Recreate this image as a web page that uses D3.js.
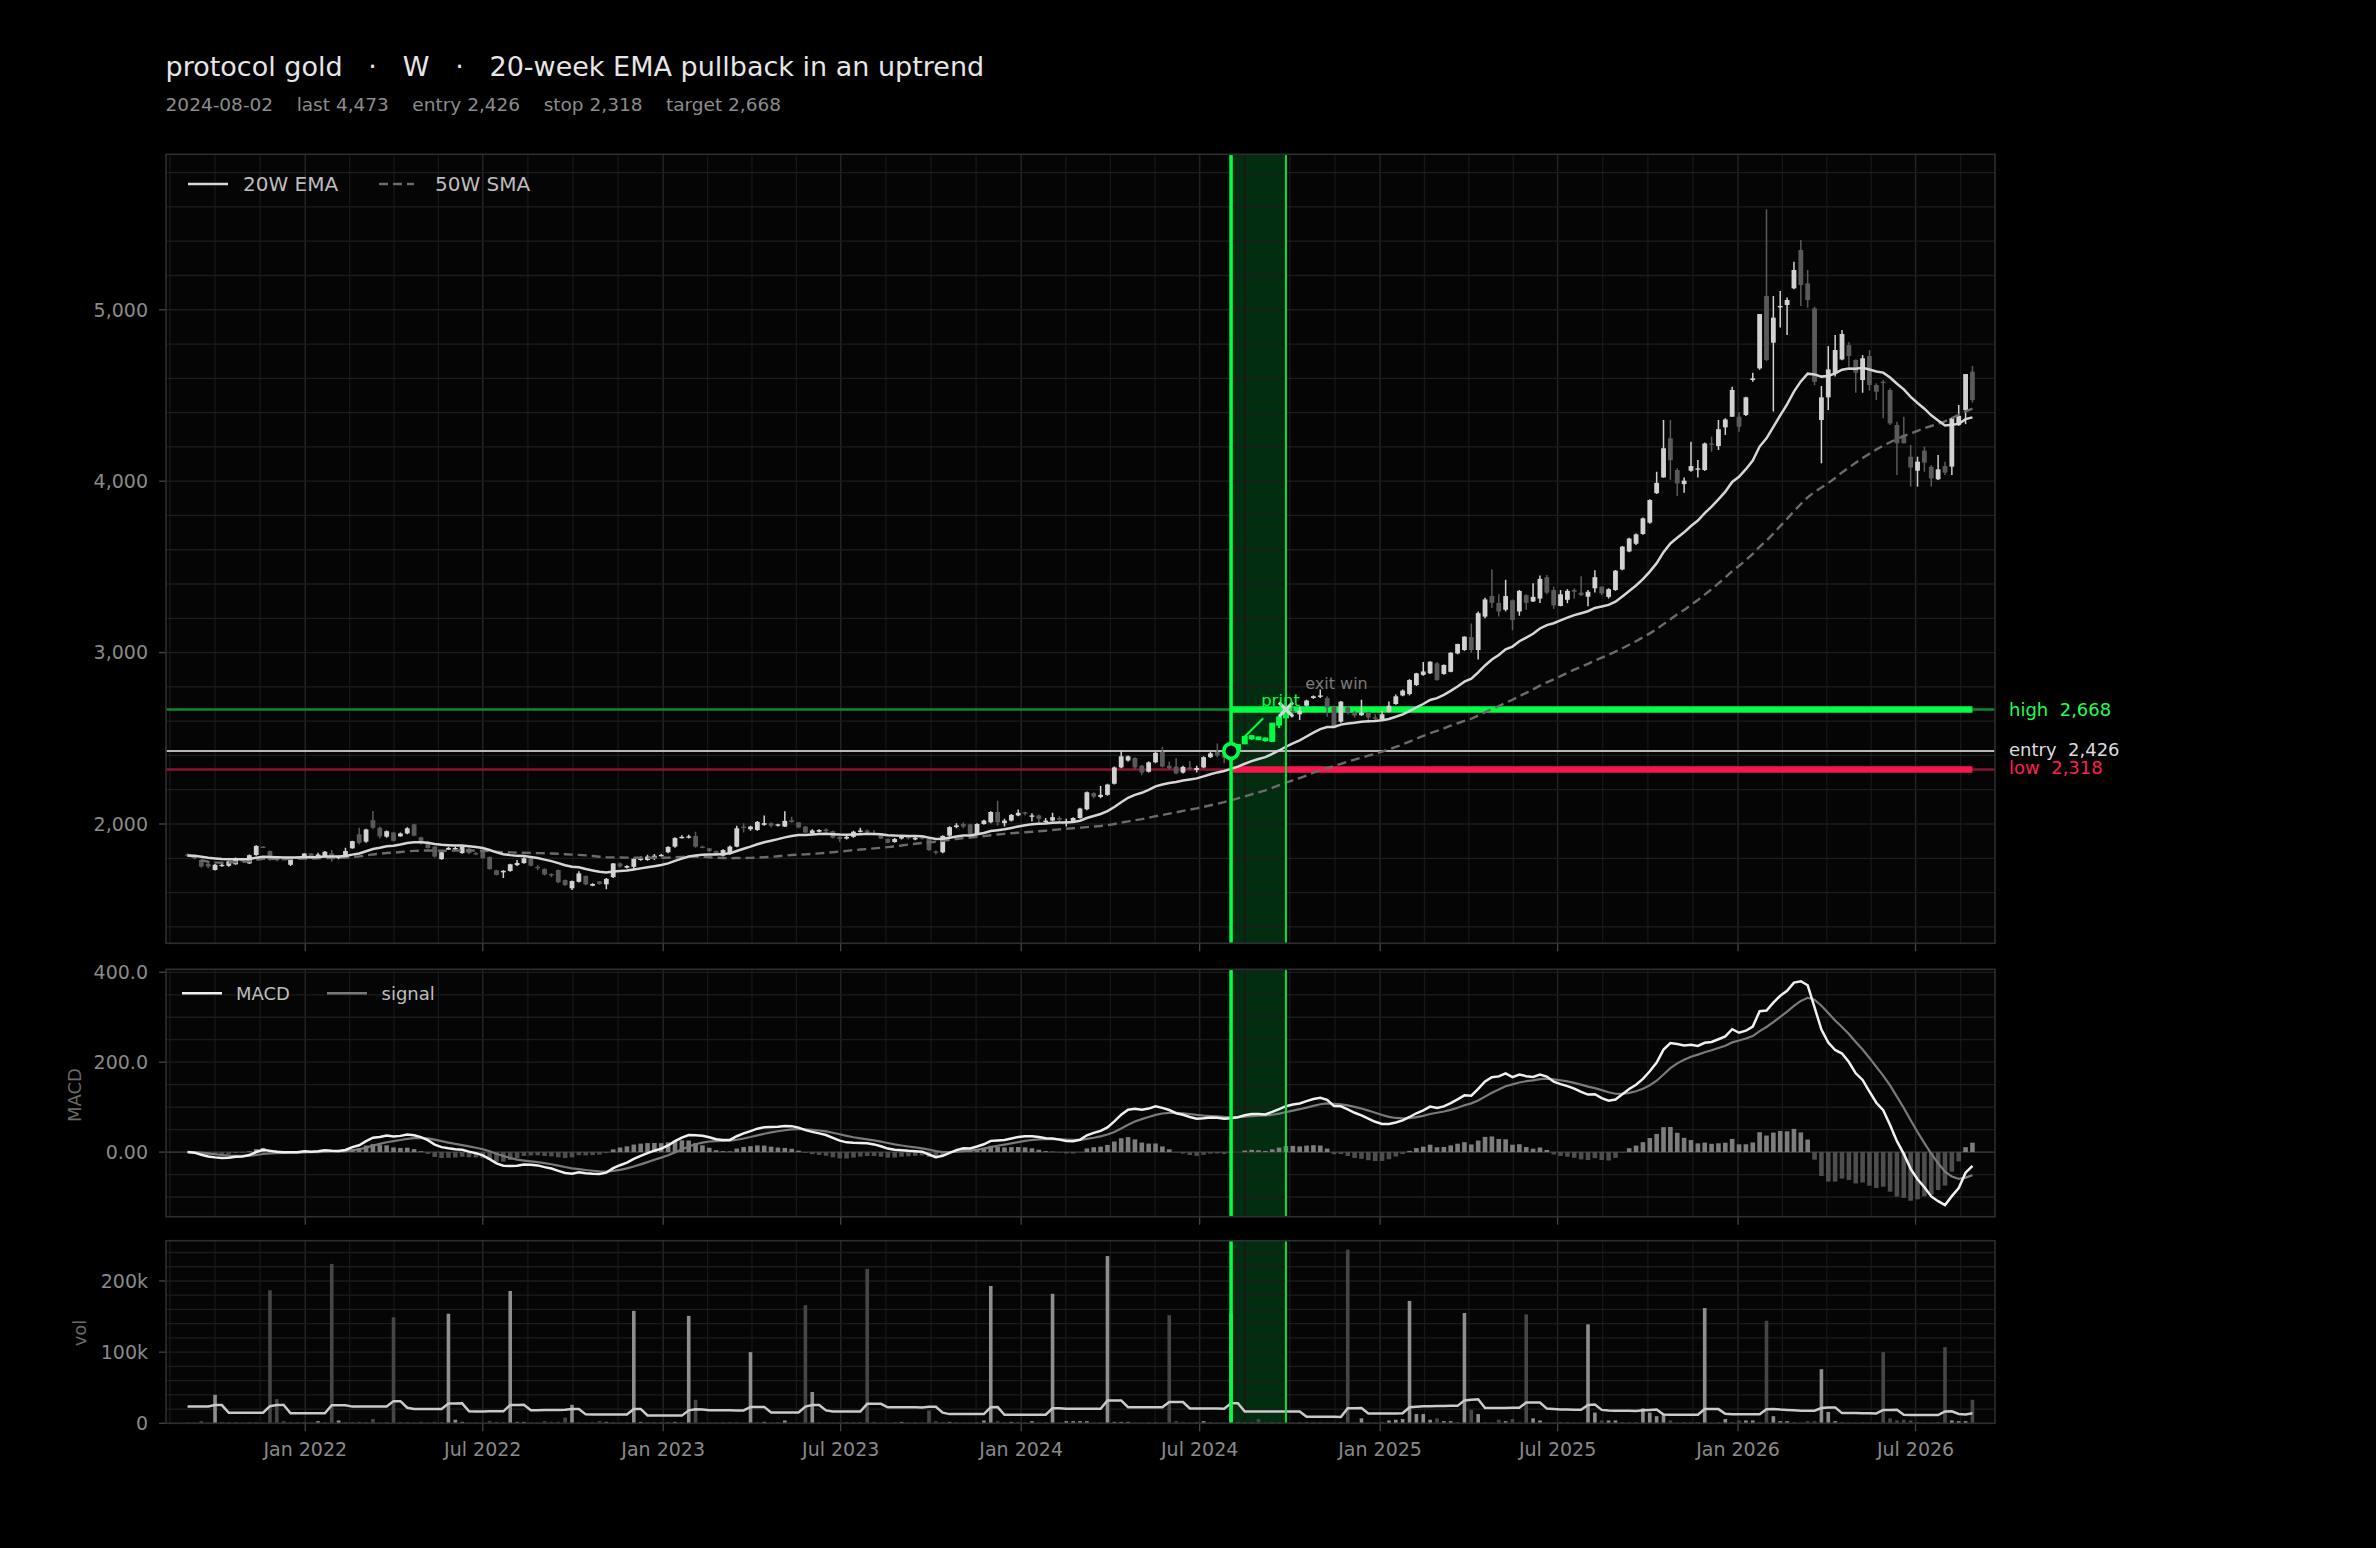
<!DOCTYPE html>
<html><head><meta charset="utf-8">
<script src="https://cdn.jsdelivr.net/npm/d3@7/dist/d3.min.js"></script>
<style>
html,body{margin:0;padding:0;background:#000;}
svg{display:block;font-family:"DejaVu Sans",sans-serif;}
</style></head><body>
<svg id="chart" width="2376" height="1548"></svg>
<script>
// ---------------- data ----------------
const symbol = "protocol gold", timeframe = "W", setup = "20-week EMA pullback in an uptrend";
const firstWeek = "2021-09-03", lastWeek = "2026-08-28";   // weekly bars, Fridays
const entryDate = "2024-08-02", exitDate = "2024-09-27";
const entryPrice = 2426, stopPrice = 2318, targetPrice = 2668;

const open = [1822,1814,1790,1768,1732,1758,1756,1765,1790,1770,1819,1868,1842,1800,1796,1762,1805,1800,1828,1800,
1808,1828,1800,1803,1858,1940,1897,2022,1978,1926,1950,1928,1945,1998,1922,1895,1868,1795,1850,1858,
1830,1856,1830,1840,1808,1730,1718,1726,1760,1772,1800,1750,1738,1708,1731,1673,1625,1663,1697,1640,
1665,1648,1690,1770,1745,1750,1790,1790,1800,1815,1835,1868,1918,1920,1930,1868,1858,1842,1815,1825,
1868,1985,1970,1965,1995,2005,1990,1985,2022,2010,1985,1945,1955,1968,1958,1925,1915,1925,1955,1962,
1945,1935,1912,1895,1915,1925,1910,1922,1915,1840,1835,1932,1982,2000,1998,1940,2000,2010,2070,2005,
2020,2050,2068,2045,2050,2015,2020,2035,2015,2015,2035,2086,2180,2158,2170,2235,2330,2370,2385,2340,
2305,2360,2420,2340,2335,2300,2330,2315,2330,2390,2420,2400,2386,2432,2471,2500,2505,2498,2485,2580,
2622,2658,2640,2690,2735,2745,2735,2685,2597,2680,2650,2635,2650,2622,2610,2655,2700,2750,2758,2811,
2870,2879,2937,2875,2888,2995,3015,3090,3015,3210,3330,3290,3250,3305,3240,3335,3298,3315,3440,3365,
3272,3308,3365,3350,3326,3375,3385,3325,3365,3485,3590,3635,3692,3758,3930,4022,4250,4065,3983,4061,
4072,4065,4220,4205,4314,4376,4376,4386,4590,4658,5080,4808,5017,5028,5125,5349,5154,5008,4357,4489,
4629,4710,4794,4707,4590,4730,4561,4580,4532,4328,4270,4143,4061,4178,4084,4011,4088,4085,4328,4415,
4639];
const high = [1830,1818,1795,1772,1768,1770,1786,1804,1798,1822,1876,1870,1846,1805,1800,1806,1812,1830,1830,1832,
1842,1848,1815,1862,1903,1978,1972,2076,1985,1962,1955,1950,1981,2002,1925,1900,1870,1838,1866,1868,
1872,1862,1836,1844,1810,1733,1730,1768,1790,1806,1804,1760,1742,1713,1735,1676,1670,1725,1700,1655,
1668,1685,1772,1776,1760,1800,1810,1820,1825,1825,1870,1922,1935,1938,1955,1875,1860,1845,1852,1875,
1990,2005,1990,2017,2050,2010,2002,2075,2042,2012,1988,1970,1970,1975,1962,1928,1932,1960,1978,1968,
1965,1938,1915,1918,1935,1928,1925,1928,1918,1845,1935,1987,2005,2010,2002,2005,2025,2075,2135,2030,
2058,2085,2072,2062,2055,2035,2065,2045,2030,2040,2095,2190,2185,2222,2235,2335,2430,2400,2390,2345,
2365,2420,2450,2365,2385,2340,2368,2340,2395,2420,2470,2430,2470,2465,2512,2520,2510,2505,2590,2628,
2672,2680,2685,2725,2750,2785,2745,2690,2718,2690,2660,2725,2655,2640,2660,2715,2755,2785,2845,2882,
2945,2950,2945,2930,3002,3052,3095,3170,3240,3320,3485,3340,3425,3310,3365,3340,3405,3450,3452,3385,
3365,3370,3375,3445,3365,3480,3385,3375,3482,3622,3670,3695,3788,3895,4055,4357,4357,4075,4022,4230,
4123,4225,4260,4357,4367,4551,4402,4492,4633,4975,5586,5080,5110,5072,5280,5407,5232,5018,4555,4788,
4853,4882,4810,4711,4736,4765,4571,4590,4542,4347,4376,4211,4143,4201,4094,4153,4114,4373,4445,4625,
4672];
const low = [1808,1795,1745,1742,1728,1750,1750,1762,1780,1766,1815,1862,1785,1783,1788,1755,1800,1796,1796,1798,
1805,1780,1795,1800,1855,1880,1890,1970,1915,1920,1898,1925,1940,1928,1880,1855,1805,1792,1848,1850,
1826,1825,1818,1798,1733,1700,1685,1722,1755,1768,1752,1730,1700,1690,1655,1638,1615,1658,1643,1637,
1646,1620,1685,1745,1740,1735,1785,1785,1790,1810,1830,1862,1915,1915,1862,1858,1835,1818,1810,1820,
1865,1950,1960,1960,1990,1980,1985,1982,2008,1975,1948,1935,1950,1950,1915,1895,1910,1920,1950,1948,
1935,1912,1888,1890,1910,1910,1905,1910,1842,1822,1830,1925,1975,1975,1935,1935,1995,2005,1990,1985,
2015,2045,2050,2015,2005,2005,2015,2015,1985,2010,2030,2080,2150,2150,2165,2230,2325,2365,2320,2285,
2300,2355,2330,2320,2290,2295,2315,2300,2325,2385,2390,2355,2380,2425,2465,2490,2490,2480,2480,2560,
2615,2620,2607,2685,2730,2735,2626,2565,2590,2640,2620,2630,2590,2605,2605,2650,2695,2745,2750,2805,
2865,2875,2835,2870,2885,2990,3010,3000,2960,3200,3260,3210,3240,3130,3215,3250,3295,3290,3340,3255,
3270,3288,3315,3330,3270,3350,3335,3315,3360,3480,3585,3628,3688,3752,3925,4020,4008,3913,3933,4055,
4022,4060,4172,4182,4270,4376,4288,4380,4580,4650,4700,4406,4897,4853,5119,5022,5012,4560,4104,4415,
4610,4705,4668,4516,4516,4528,4474,4367,4328,4036,4221,3968,3968,4055,3968,4007,4036,4036,4322,4333,
4458];
const close = [1816,1800,1752,1752,1762,1762,1782,1800,1786,1818,1872,1865,1790,1790,1792,1802,1808,1828,1800,1822,
1838,1802,1812,1842,1900,1890,1968,1978,1928,1958,1902,1945,1975,1932,1900,1860,1810,1835,1860,1860,
1868,1830,1826,1800,1737,1703,1727,1765,1773,1800,1757,1745,1705,1700,1660,1644,1667,1712,1648,1650,
1650,1680,1770,1752,1755,1797,1800,1810,1815,1820,1866,1918,1925,1928,1868,1862,1842,1822,1848,1868,
1975,1978,1985,2012,2005,1990,1998,2018,2012,1980,1950,1962,1965,1958,1920,1912,1925,1955,1962,1958,
1940,1915,1890,1912,1925,1918,1920,1915,1848,1832,1930,1982,1992,1985,1940,2000,2020,2070,2010,2020,
2053,2065,2062,2050,2030,2020,2040,2025,2015,2035,2090,2185,2160,2170,2230,2330,2395,2395,2330,2300,
2360,2415,2335,2325,2295,2333,2320,2327,2390,2412,2400,2387,2440,2461,2508,2512,2495,2495,2585,2622,
2658,2655,2660,2720,2745,2750,2680,2568,2714,2650,2633,2650,2622,2620,2640,2690,2745,2778,2840,2879,
2890,2947,2840,2928,2999,3050,3093,3015,3230,3310,3290,3240,3330,3190,3360,3290,3325,3430,3350,3275,
3340,3360,3355,3335,3355,3440,3345,3370,3478,3618,3665,3690,3783,3890,3990,4192,4122,3987,4003,4088,
4075,4220,4212,4303,4360,4532,4318,4489,4600,4975,4707,4954,5022,5057,5232,5144,5057,4580,4489,4652,
4765,4859,4730,4633,4717,4561,4522,4575,4337,4221,4221,4080,4114,4108,4016,4069,4050,4367,4381,4625,
4473];
// weekly volume, thousands
const volumeK = [1,1,3,1,40,1,1,1,1,1, 1,1,187,34,3,1,1,1,1,3, 1,224,4,1,1,2,1,6,1,1,
149,1,1,1,2,1,2,1,154,5, 2,1,1,1,3,2,1,186,2,2, 1,1,3,2,2,8,26,1,1,1,
3,2,1,1,1,158,2,1,1,1, 1,2,1,151,33,1,1,1,1,1, 1,1,100,1,2,1,1,4,1,1,
166,44,1,1,1,1,1,1,1,217, 2,1,1,1,2,1,1,1,18,3, 1,2,1,1,1,1,4,193,3,1,
2,1,1,3,1,1,182,1,3,3, 3,3,1,1,235,2,2,2,1,1, 1,1,1,152,3,1,1,1,3,1,
1,1,155,1,1,1,6,1,1,1, 1,1,1,1,1,1,1,1,1,244, 1,7,1,1,1,4,5,6,172,13,
13,5,7,3,3,1,155,19,13,1, 1,5,3,6,1,153,7,4,1,1, 1,1,1,1,139,15,4,4,4,1,
1,1,21,15,10,12,4,1,1,1, 1,162,1,1,6,1,4,4,4,1, 144,10,3,3,1,1,3,3,76,16,
3,1,1,1,1,1,1,100,7,4, 5,4,1,1,1,1,107,4,3,3, 33];
// the 19 weeks before the first bar: not drawn, only implied by the 20-week volume average level
const volumePriorK = [1,1,1,1,1,216,1,1,1,1,1,1,1,1,236,1,1,1,1];

const priceTicks = [2000, 3000, 4000, 5000];
const macdTicks = [0, 200, 400], macdTickLabels = ["0.00", "200.0", "400.0"];
const volTicks = [0, 100, 200], volTickLabels = ["0", "100k", "200k"];

// ---------------- indicators ----------------
function ema(a, n) { const k = 2 / (n + 1), o = []; a.forEach((v, i) => o.push(i ? v * k + o[i - 1] * (1 - k) : v)); return o; }
function sma(a, n) { return a.map((v, i) => d3.mean(a.slice(Math.max(0, i - n + 1), i + 1))); }
const ema20 = ema(close, 20), sma50 = sma(close, 50);
const e12 = ema(close, 12), e26 = ema(close, 26);
const macd = e12.map((v, i) => v - e26[i]);
const signal = ema(macd, 9);
const hist = macd.map((v, i) => v - signal[i]);
const volAll = volumePriorK.concat(volumeK);
const volMA = volumeK.map((v, i) => d3.mean(volAll.slice(i, i + 20)));

// ---------------- layout ----------------
const svg = d3.select("#chart");
const W = 2376, H = 1548, L = 166, R = 1995;
const P = { main: [154.3, 943.3], macd: [969.3, 1216.7], vol: [1240.7, 1423.3] };
svg.append("rect").attr("width", W).attr("height", H).attr("fill", "#000");

const parse = d3.utcParse("%Y-%m-%d");
const weeks = d3.utcFriday.range(parse(firstWeek), d3.utcDay.offset(parse(lastWeek), 1));
const N = weeks.length;
const x = d3.scaleUtc().domain([parse("2021-08-12"), parse("2026-09-20")]).range([L, R]);
const yP = d3.scaleLinear().domain([1304, 5907]).range([P.main[1], P.main[0]]);
const yM = d3.scaleLinear().domain([-143.8, 406.7]).range([P.macd[1], P.macd[0]]);
const yV = d3.scaleLinear().domain([0, 256.6]).range([P.vol[1], P.vol[0]]);
const X = i => x(weeks[i]);
const iEntry = weeks.findIndex(d => +d === +parse(entryDate));
const iExit = weeks.findIndex(d => +d === +parse(exitDate));

const majors = d3.utcMonth.every(6).range(parse("2021-07-01"), parse("2027-01-02"));
const minors = [];
for (let k = 0; k < majors.length - 1; k++) for (let j = 1; j < 4; j++) minors.push(new Date(+majors[k] + j * (majors[k + 1] - majors[k]) / 4));
const [d0, d1] = x.domain();
const majIn = majors.filter(d => d >= d0 && d <= d1), minIn = minors.filter(d => d >= d0 && d <= d1);

function panel(name, y, gridVals, tickVals, tickLabels) {
  const [top, bot] = P[name];
  const g = svg.append("g");
  const cid = "clip-" + name;
  svg.append("clipPath").attr("id", cid).append("rect").attr("x", L).attr("y", top).attr("width", R - L).attr("height", bot - top);
  g.append("rect").attr("x", L).attr("y", top).attr("width", R - L).attr("height", bot - top).attr("fill", "#050505");
  // trade window band
  g.append("rect").attr("x", X(iEntry)).attr("y", top).attr("width", X(iExit) - X(iEntry)).attr("height", bot - top).attr("fill", "#032d10");
  // grid
  g.selectAll(null).data(minIn).join("line").attr("x1", d => x(d)).attr("x2", d => x(d)).attr("y1", top).attr("y2", bot).attr("stroke", "#171717").attr("stroke-width", 1.3);
  g.selectAll(null).data(majIn).join("line").attr("x1", d => x(d)).attr("x2", d => x(d)).attr("y1", top).attr("y2", bot).attr("stroke", "#232323").attr("stroke-width", 1.5);
  g.selectAll(null).data(gridVals).join("line").attr("x1", L).attr("x2", R).attr("y1", d => y(d)).attr("y2", d => y(d)).attr("stroke", "#1c1c1c").attr("stroke-width", 1.3);
  // axis ticks
  g.selectAll(null).data(majIn).join("line").attr("x1", d => x(d)).attr("x2", d => x(d)).attr("y1", bot).attr("y2", bot + 8).attr("stroke", "#444").attr("stroke-width", 1.3);
  g.selectAll(null).data(tickVals).join("line").attr("x1", L - 7).attr("x2", L).attr("y1", d => y(d)).attr("y2", d => y(d)).attr("stroke", "#444").attr("stroke-width", 1.3);
  g.selectAll(null).data(tickVals).join("text").attr("x", 148).attr("y", d => y(d)).attr("dy", "0.36em").attr("text-anchor", "end")
    .attr("font-size", 19).attr("fill", "#8a8a8a").text((d, i) => tickLabels[i]);
  const inner = svg.append("g").attr("clip-path", `url(#${cid})`);
  const over = svg.append("g");
  return { g, inner, over, top, bot, edges: () => {
    over.append("line").attr("x1", X(iEntry)).attr("x2", X(iEntry)).attr("y1", top).attr("y2", bot).attr("stroke", "#00ff44").attr("stroke-width", 3.5);
    over.append("line").attr("x1", X(iExit)).attr("x2", X(iExit)).attr("y1", top).attr("y2", bot).attr("stroke", "#00e23c").attr("stroke-width", 2);
    over.append("rect").attr("x", L).attr("y", top).attr("width", R - L).attr("height", bot - top).attr("fill", "none").attr("stroke", "#2e2e2e").attr("stroke-width", 1.6);
  } };
}

// ---------------- title ----------------
const fmt = d3.format(",");
svg.append("text").attr("x", 165.6).attr("y", 76).attr("font-size", 27).attr("fill", "#e6e6e6").style("white-space", "pre")
  .text(`${symbol}   ·   ${timeframe}   ·   ${setup}`);
svg.append("text").attr("x", 165.6).attr("y", 110.5).attr("font-size", 18.5).attr("fill", "#8c8c8c").style("white-space", "pre")
  .text([entryDate, `last ${fmt(close[N - 1])}`, `entry ${fmt(entryPrice)}`, `stop ${fmt(stopPrice)}`, `target ${fmt(targetPrice)}`].join("    "));

// ---------------- main price panel ----------------
const pm = panel("main", yP, d3.range(1400, 5901, 200), priceTicks, priceTicks.map(fmt));
const lv = pm.inner;
// level lines
lv.append("line").attr("x1", L).attr("x2", R).attr("y1", yP(targetPrice)).attr("y2", yP(targetPrice)).attr("stroke", "#0e8a2b").attr("stroke-width", 2.6);
lv.append("line").attr("x1", L).attr("x2", R).attr("y1", yP(stopPrice)).attr("y2", yP(stopPrice)).attr("stroke", "#8c1330").attr("stroke-width", 2.6);
lv.append("line").attr("x1", L).attr("x2", R).attr("y1", yP(entryPrice)).attr("y2", yP(entryPrice)).attr("stroke", "#b8b8b8").attr("stroke-width", 1.8);
lv.append("line").attr("x1", X(iEntry)).attr("x2", X(N - 1)).attr("y1", yP(targetPrice)).attr("y2", yP(targetPrice)).attr("stroke", "#00ff44").attr("stroke-width", 6.5);
lv.append("line").attr("x1", X(iEntry) + 2).attr("x2", X(N - 1)).attr("y1", yP(stopPrice)).attr("y2", yP(stopPrice)).attr("stroke", "#f7174b").attr("stroke-width", 6.5);
// candles
const idx = d3.range(N);
const inTrade = i => i >= iEntry && i <= iExit;
const cCol = i => inTrade(i) ? "#00ff44" : (close[i] >= open[i] ? "#d2d2d2" : "#5a5a5a");
lv.selectAll(null).data(idx).join("line").attr("x1", X).attr("x2", X).attr("y1", i => yP(high[i])).attr("y2", i => yP(low[i]))
  .attr("stroke", cCol).attr("stroke-width", i => inTrade(i) ? 2 : 1.5);
lv.selectAll(null).data(idx).join("rect").attr("x", i => X(i) - (inTrade(i) ? 3 : 2.4)).attr("width", i => inTrade(i) ? 6 : 4.8)
  .attr("y", i => yP(Math.max(open[i], close[i])) - (inTrade(i) ? 1 : 0))
  .attr("height", i => Math.max(1.4, Math.abs(yP(open[i]) - yP(close[i]))) + (inTrade(i) ? 2 : 0)).attr("fill", cCol);
// moving averages
const lineOf = (arr, y) => d3.line().x((d, i) => X(i)).y(d => y(d))(arr);
lv.append("path").attr("d", lineOf(sma50, yP)).attr("fill", "none").attr("stroke", "#6b6b6b").attr("stroke-width", 2.4).attr("stroke-dasharray", "9,5");
lv.append("path").attr("d", lineOf(ema20, yP)).attr("fill", "none").attr("stroke", "#d6d6d6").attr("stroke-width", 2.5);
pm.edges();
// markers and annotations
const ex = X(iEntry), ey = yP(entryPrice), xx = X(iExit), xy = yP(targetPrice);
pm.over.append("line").attr("x1", ex + 11.6).attr("y1", ey - 12.3).attr("x2", ex + 32.2).attr("y2", ey - 32.7).attr("stroke", "#00ff44").attr("stroke-width", 2);
pm.over.append("circle").attr("cx", ex).attr("cy", ey).attr("r", 7.3).attr("fill", "#000").attr("stroke", "#00ff44").attr("stroke-width", 3.8);
pm.over.append("path").attr("d", `M${xx - 7},${xy - 7}L${xx + 7},${xy + 7}M${xx - 7},${xy + 7}L${xx + 7},${xy - 7}`).attr("stroke", "#d4d4d4").attr("stroke-width", 3.2);
pm.over.append("text").attr("x", ex + 49.5).attr("y", ey - 45.3).attr("text-anchor", "middle").attr("font-size", 16.5).attr("fill", "#00ff44").text("print");
pm.over.append("text").attr("x", xx + 19.3).attr("y", xy - 20).attr("font-size", 16).attr("fill", "#7c7c7c").text("exit win");
// right labels
const rl = [["high", targetPrice, "#1eff55", 6.5], ["entry", entryPrice, "#dcdcdc", 5], ["low", stopPrice, "#ff1f50", 5]];
svg.selectAll(null).data(rl).join("text").attr("x", 2009).attr("y", d => yP(d[1]) + d[3]).attr("font-size", 18).attr("fill", d => d[2])
  .style("white-space", "pre").text(d => `${d[0]}  ${fmt(d[1])}`);
// legend
pm.over.append("line").attr("x1", 188).attr("x2", 228).attr("y1", 184).attr("y2", 184).attr("stroke", "#d6d6d6").attr("stroke-width", 2.5);
pm.over.append("text").attr("x", 243).attr("y", 191).attr("font-size", 20).attr("fill", "#bdbdbd").text("20W EMA");
pm.over.append("line").attr("x1", 379).attr("x2", 414).attr("y1", 184).attr("y2", 184).attr("stroke", "#6b6b6b").attr("stroke-width", 2.4).attr("stroke-dasharray", "9,5");
pm.over.append("text").attr("x", 435).attr("y", 191).attr("font-size", 20).attr("fill", "#bdbdbd").text("50W SMA");

// ---------------- MACD panel ----------------
const mp = panel("macd", yM, d3.range(-100, 401, 50), macdTicks, macdTickLabels);
mp.inner.append("line").attr("x1", L).attr("x2", R).attr("y1", yM(0)).attr("y2", yM(0)).attr("stroke", "#3a3a3a").attr("stroke-width", 1.4);
mp.inner.selectAll(null).data(idx).join("rect").attr("x", i => X(i) - 2.3).attr("width", 4.6)
  .attr("y", i => yM(Math.max(0, hist[i]))).attr("height", i => Math.abs(yM(hist[i]) - yM(0)))
  .attr("fill", i => hist[i] >= 0 ? "#7d7d7d" : "#4e4e4e");
mp.inner.append("path").attr("d", lineOf(signal, yM)).attr("fill", "none").attr("stroke", "#7a7a7a").attr("stroke-width", 2.2);
mp.inner.append("path").attr("d", lineOf(macd, yM)).attr("fill", "none").attr("stroke", "#f0f0f0").attr("stroke-width", 2.5);
mp.edges();
mp.over.append("line").attr("x1", 182).attr("x2", 222).attr("y1", 993.3).attr("y2", 993.3).attr("stroke", "#f0f0f0").attr("stroke-width", 2.5);
mp.over.append("text").attr("x", 236).attr("y", 999.8).attr("font-size", 18).attr("fill", "#bdbdbd").text("MACD");
mp.over.append("line").attr("x1", 327).attr("x2", 367).attr("y1", 993.3).attr("y2", 993.3).attr("stroke", "#7a7a7a").attr("stroke-width", 2.4);
mp.over.append("text").attr("x", 381.5).attr("y", 999.8).attr("font-size", 18).attr("fill", "#bdbdbd").text("signal");
svg.append("text").attr("transform", "translate(81,1095) rotate(-90)").attr("text-anchor", "middle").attr("font-size", 18).attr("fill", "#6a6a6a").text("MACD");

// ---------------- volume panel ----------------
const vp = panel("vol", yV, d3.range(0, 256, 20), volTicks, volTickLabels);
vp.inner.selectAll(null).data(idx).join("rect").attr("x", i => X(i) - 1.8).attr("width", 3.6)
  .attr("y", i => yV(volumeK[i])).attr("height", i => yV(0) - yV(volumeK[i]))
  .attr("fill", i => close[i] >= open[i] ? "#8e8e8e" : "#464646");
vp.inner.append("path").attr("d", lineOf(volMA, yV)).attr("fill", "none").attr("stroke", "#cacaca").attr("stroke-width", 2.5);
vp.edges();
svg.append("text").attr("transform", "translate(86,1333) rotate(-90)").attr("text-anchor", "middle").attr("font-size", 18).attr("fill", "#6a6a6a").text("vol");
// x tick labels
svg.selectAll(null).data(majIn).join("text").attr("x", d => x(d)).attr("y", 1456).attr("text-anchor", "middle")
  .attr("font-size", 19).attr("fill", "#8a8a8a").text(d3.utcFormat("%b %Y"));
</script>
</body></html>
